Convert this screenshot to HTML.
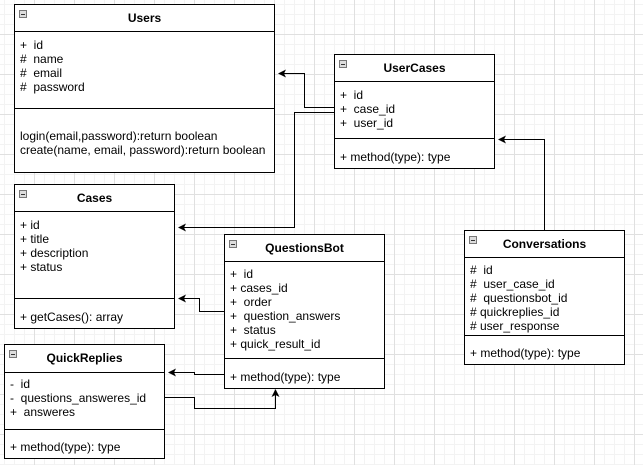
<!DOCTYPE html>
<html><head><style>
body{margin:0;width:643px;height:465px;overflow:hidden;background:#fff;
background-image:linear-gradient(#e0e0e0 1px,transparent 1px),linear-gradient(90deg,#e0e0e0 1px,transparent 1px),linear-gradient(#f3f3f3 1px,transparent 1px),linear-gradient(90deg,#f3f3f3 1px,transparent 1px);
background-size:40px 40px,40px 40px,10px 10px,10px 10px;background-position:-6px -6px,-6px -6px,4px 4px,4px 4px;
font-family:"Liberation Sans",Arial,sans-serif;font-size:12px;color:#000;position:relative}
.b{position:absolute;border:1px solid #000;background:#fff;box-sizing:border-box}
.h{position:absolute;left:0;right:0;top:0;border-bottom:1px solid #000;font-weight:bold;text-align:center;box-sizing:border-box}
.m{position:absolute;left:4px;top:5px;width:8px;height:8px;border:1px solid #777;background:#ddd;box-sizing:border-box}
.m:after{content:"";position:absolute;left:1px;right:1px;top:3px;height:1px;background:#333}
.s{position:absolute;left:0;right:0;border-top:1px solid #000}
.t{position:absolute;left:5px;line-height:14px;white-space:pre}
svg{position:absolute;left:0;top:0}
</style></head><body>
<div class="b" style="left:14px;top:4px;width:261px;height:169px">
<div class="h" style="height:27px;line-height:26px">Users</div><div class="m"></div>
<div class="t" style="top:33px">+  id
#  name
#  email
#  password</div>
<div class="s" style="top:103px"></div>
<div class="t" style="top:124px">login(email,password):return boolean
create(name, email, password):return boolean</div></div>

<div class="b" style="left:334px;top:54px;width:161px;height:115px">
<div class="h" style="height:27px;line-height:26px">UserCases</div><div class="m"></div>
<div class="t" style="top:33px">+  id
+  case_id
+  user_id</div>
<div class="s" style="top:83px"></div>
<div class="t" style="top:95px">+ method(type): type</div></div>

<div class="b" style="left:14px;top:184px;width:161px;height:145px">
<div class="h" style="height:27px;line-height:26px">Cases</div><div class="m"></div>
<div class="t" style="top:33px">+ id
+ title
+ description
+ status</div>
<div class="s" style="top:113px"></div>
<div class="t" style="top:125px">+ getCases(): array</div></div>

<div class="b" style="left:224px;top:234px;width:161px;height:155px">
<div class="h" style="height:27px;line-height:26px">QuestionsBot</div><div class="m"></div>
<div class="t" style="top:32px">+  id
+ cases_id
+  order
+  question_answers
+  status
+ quick_result_id</div>
<div class="s" style="top:123px"></div>
<div class="t" style="top:135px">+ method(type): type</div></div>

<div class="b" style="left:4px;top:344px;width:161px;height:115px">
<div class="h" style="height:28px;line-height:26px">QuickReplies</div><div class="m"></div>
<div class="t" style="top:32px">-  id
-  questions_answeres_id
+  answeres</div>
<div class="s" style="top:84px"></div>
<div class="t" style="top:95px">+ method(type): type</div></div>

<div class="b" style="left:464px;top:230px;width:161px;height:135px">
<div class="h" style="height:27px;line-height:26px">Conversations</div><div class="m"></div>
<div class="t" style="top:32px">#  id
#  user_case_id
#  questionsbot_id
# quickreplies_id
# user_response</div>
<div class="s" style="top:104px"></div>
<div class="t" style="top:115px">+ method(type): type</div></div>

<svg width="643" height="465" fill="none" stroke="#000" stroke-width="1">
<path d="M334.5 107.5H304.5V73.5H284"/>
<path d="M334.5 112.5H294.5V227.5H184"/>
<path d="M224.5 311.5H199.5V298.5H184"/>
<path d="M224.5 374.5H194.5V372.5H174"/>
<path d="M164.5 397.5H194.5V408.5H275.5V395"/>
<path d="M544.5 230V139.5H504"/>
<g fill="#000" stroke="none">
<path d="M278 73.5l8-4-2 4 2 4z"/>
<path d="M178 227.5l8-4-2 4 2 4z"/>
<path d="M178 298.5l8-4-2 4 2 4z"/>
<path d="M168 372.5l8-4-2 4 2 4z"/>
<path d="M498 139.5l8-4-2 4 2 4z"/>
<path d="M275.5 389l-4 8 4-2 4 2z"/>
</g></svg>
</body></html>
